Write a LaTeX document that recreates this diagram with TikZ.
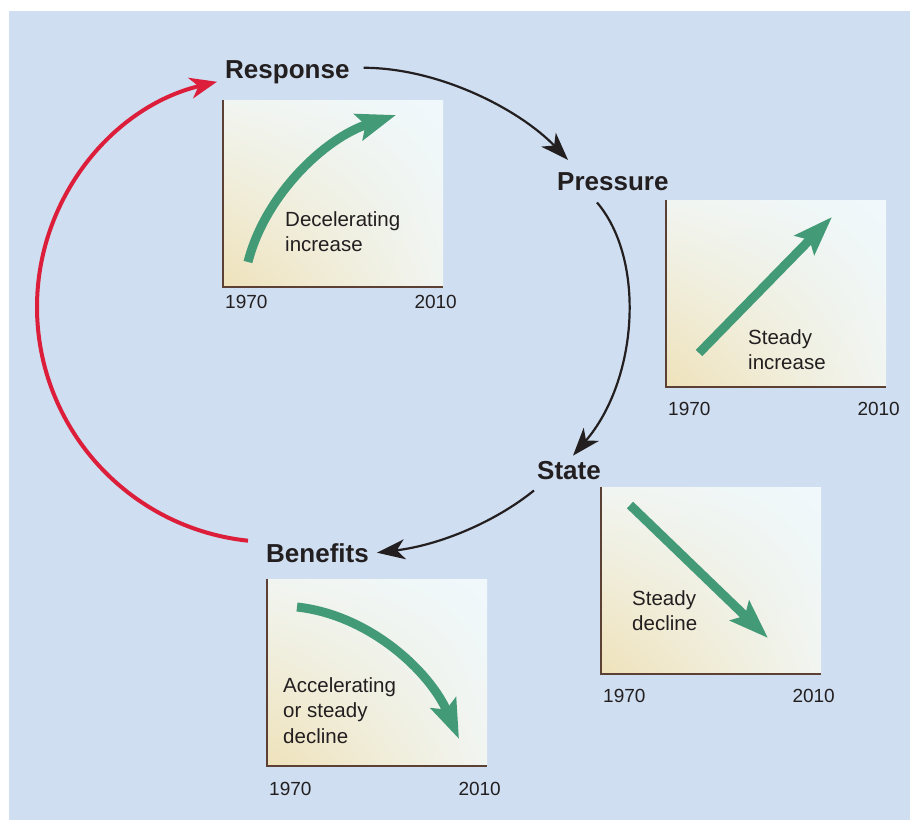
\documentclass[tikz,border=0pt]{standalone}
\usepackage{fontspec}
\setmainfont{Liberation Sans}
\usetikzlibrary{arrows.meta,shadings}
\definecolor{bgblue}{RGB}{207,222,240}
\definecolor{trendgreen}{RGB}{66,154,118}
\definecolor{loopred}{RGB}{220,30,58}
\definecolor{inkdark}{RGB}{35,31,32}
\definecolor{axisbrown}{RGB}{92,64,51}
\definecolor{paneltan}{RGB}{239,226,186}
\definecolor{panelsky}{RGB}{240,248,252}
\definecolor{panelmid}{RGB}{241,245,241}

\begin{document}
\begin{tikzpicture}[x=1pt,y=-1pt]
\tikzstyle{stage}=[anchor=base west,inner sep=0pt,text=inkdark,font=\fontsize{26}{30}\selectfont\bfseries]
\tikzstyle{trend}=[anchor=north west,inner sep=0pt,align=left,text=inkdark,font=\fontsize{20.5}{25.5}\selectfont]
\tikzstyle{year}=[inner sep=0pt,text=inkdark,font=\fontsize{19}{22}\selectfont]
\tikzstyle{cyclearrow}=[draw=inkdark,line width=2.2pt,-{Stealth[length=28pt,width=20pt,inset=8pt]}]
\tikzstyle{backarrow}=[draw=loopred,line width=4pt,-{Stealth[length=27pt,width=21pt,inset=8pt]}]
\tikzstyle{growth}=[draw=trendgreen,line width=9pt,-{Stealth[length=39pt,width=27pt,inset=7pt]}]
    \useasboundingbox (0,0) rectangle (910,820);
    \fill[bgblue] (9,11) rectangle (910,820);
    % the four small time charts
    \foreach \px/\py/\yr [count=\i] in {223/100/208,666/200/215,601/487/215,267/579/216}{
        \shade[lower left=paneltan,upper right=panelsky,upper left=panelmid,lower right=panelmid]
            (\px,\py) rectangle ++(220,187);
        \draw[axisbrown,line width=1.8pt] (\px,\py) -- ++(0,187) -- ++(220,0);
        \node[year,anchor=base west] (from-\i) at (\px+2,\py+\yr) {1970};
        \node[year,anchor=base east] (to-\i) at (\px+234,\py+\yr) {2010};
    }
    % trends
    \draw[growth] (248,262) .. controls (265,195) and (325,138) .. (396,115);
    \draw[growth] (699,353) -- (832,217);
    \draw[growth] (630,505) -- (768,638);
    \draw[growth] (297,607) .. controls (370,615) and (430,672) .. (459,739);
    \node[trend] (resp-trend) at (285,211) {Decelerating\\increase};
    \node[trend] (pres-trend) at (748,329) {Steady\\increase};
    \node[trend] (state-trend) at (632,590) {Steady\\decline};
    \node[trend] (ben-trend) at (283,677) {Accelerating\\or steady\\decline};
    % the cycle
    \node[stage] (resp) at (225,78) {Response};
    \node[stage] (pres) at (557,190) {Pressure};
    \node[stage] (state) at (537,479) {State};
    \node[stage] (ben) at (266,562) {Benefits};
    \draw[cyclearrow] ([shift={(14,-4)}]resp.east) .. controls (440,68) and (520,110) .. ([shift={(11,-12)}]pres.north west);
    \draw[cyclearrow] ([shift={(40,12)}]pres.south west) .. controls (646,260) and (638,380) .. ([shift={(36,-5)}]state.north west);
    \draw[cyclearrow] ([shift={(-3,11)}]state.south west) .. controls (495,522) and (440,545) .. ([shift={(8,0)}]ben.east);
    \draw[backarrow] ([shift={(-18,-12)}]ben.west) .. controls (128,528) and (37,427) .. (37,307)
        .. controls (37,199) and (112,107) .. ([shift={(-8,10)}]resp.west);
\end{tikzpicture}
\end{document}
